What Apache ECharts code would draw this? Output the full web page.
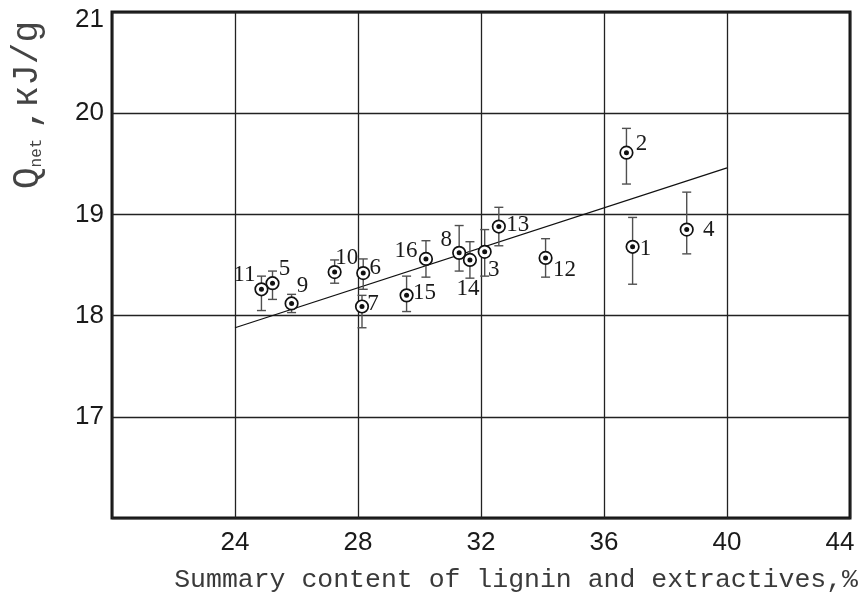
<!DOCTYPE html>
<html><head><meta charset="utf-8">
<script src="https://cdn.jsdelivr.net/npm/echarts@6/dist/echarts.min.js"></script>
<style>html,body{margin:0;padding:0;background:#fff}#c{width:861px;height:594px}</style>
</head><body><div id="c"></div>
<script>
// ---- data ----
const sampleIds = ['1','2','3','4','5','6','7','8','9','10','11','12','13','14','15','16'];
const ligninExtractives = [36.93, 36.73, 32.12, 38.69, 25.22, 28.17, 28.13, 31.29, 25.84, 27.24, 24.86, 34.10, 32.58, 31.64, 29.58, 30.21];
const qNet     = [18.68, 19.61, 18.63, 18.85, 18.32, 18.42, 18.09, 18.62, 18.12, 18.43, 18.26, 18.57, 18.88, 18.55, 18.20, 18.56];
const qNetLow  = [18.31, 19.30, 18.39, 18.61, 18.16, 18.26, 17.88, 18.44, 18.03, 18.32, 18.05, 18.38, 18.69, 18.37, 18.04, 18.38];
const qNetHigh = [18.97, 19.85, 18.85, 19.22, 18.44, 18.56, 18.20, 18.89, 18.21, 18.55, 18.39, 18.76, 19.07, 18.73, 18.39, 18.74];
const trendX = [24, 40];
const trendY = [17.88, 19.46];
const xTickMin = 20, xTickMax = 44, xTickStep = 4;
const yTickMin = 16, yTickMax = 21, yTickStep = 1;
const xTitle = 'Summary content of lignin and extractives,%';

// ---- layout (label offsets in px, per sample) ----
const labelOffsets = [[13,2],[15,-9],[9,18],[22,0],[12,-14],[12,-5],[11,-3],[-13,-13],[11,-18],[12,-14],[-17,-14],[19,12],[19,-2],[-2,29],[18,-2],[-20,-8]];

const chart = echarts.init(document.getElementById('c'), null, {renderer: 'canvas'});
const markerData = sampleIds.map((id, i) => [ligninExtractives[i], qNet[i]]);
const dotData = sampleIds.map((id, i) => ({name: id, value: [ligninExtractives[i], qNet[i]], label: {offset: labelOffsets[i]}}));
const barData = sampleIds.map((id, i) => [ligninExtractives[i], qNetLow[i], qNetHigh[i]]);

const tickFont = {fontFamily: '"Liberation Sans", Arial, sans-serif', fontSize: 26, color: '#1a1a1a'};

const option = {
  animation: false,
  grid: {left: 112, right: 11, top: 12, bottom: 76, show: true, borderColor: '#151515', borderWidth: 3, backgroundColor: 'transparent', outerBoundsMode: 'none'},
  xAxis: {
    type: 'value', min: xTickMin, max: xTickMax, interval: xTickStep,
    axisLine: {show: false}, axisTick: {show: false},
    splitLine: {show: true, lineStyle: {color: '#222', width: 1.3}},
    axisLabel: Object.assign({}, tickFont, {
      showMinLabel: false, margin: 12,
      formatter: v => v === xTickMax ? '{r|' + v + '}' : String(v),
      rich: {r: Object.assign({}, tickFont, {padding: [0, 20, 0, 0]})}
    })
  },
  yAxis: {
    type: 'value', min: yTickMin, max: yTickMax, interval: yTickStep,
    axisLine: {show: false}, axisTick: {show: false},
    splitLine: {show: true, lineStyle: {color: '#222', width: 1.3}},
    axisLabel: Object.assign({}, tickFont, {
      showMinLabel: false, margin: 8,
      formatter: v => v === yTickMax ? '{t|' + v + '}' : String(v),
      rich: {t: Object.assign({}, tickFont, {padding: [16, 0, 0, 0]})}
    })
  },
  series: [
    {type: 'line', data: trendX.map((x, i) => [x, trendY[i]]), symbol: 'none', silent: true,
     lineStyle: {color: '#111', width: 1.3}, z: 2},
    {type: 'custom', data: barData, z: 3, silent: true,
     renderItem: (params, api) => {
       const x = api.value(0);
       const lo = api.coord([x, api.value(1)]);
       const hi = api.coord([x, api.value(2)]);
       const w = 4.5;
       const st = {stroke: '#505050', lineWidth: 1.4};
       return {type: 'group', children: [
         {type: 'line', shape: {x1: lo[0], y1: lo[1], x2: hi[0], y2: hi[1]}, style: st},
         {type: 'line', shape: {x1: lo[0] - w, y1: lo[1], x2: lo[0] + w, y2: lo[1]}, style: st},
         {type: 'line', shape: {x1: hi[0] - w, y1: hi[1], x2: hi[0] + w, y2: hi[1]}, style: st}
       ]};
     }},
    {type: 'scatter', data: markerData, symbol: 'circle', symbolSize: 12.5, z: 4, silent: true,
     itemStyle: {color: '#fff', borderColor: '#111', borderWidth: 1.7, opacity: 1}},
    {type: 'scatter', data: dotData, symbol: 'circle', symbolSize: 5, z: 5, silent: true,
     itemStyle: {color: '#111', opacity: 1},
     label: {show: true, position: 'inside', formatter: p => p.name,
             fontFamily: '"Liberation Serif", "Times New Roman", serif', fontSize: 23, color: '#1a1a1a'}}
  ],
  graphic: [
    {type: 'text', x: 858, y: 580, silent: true,
     style: {text: xTitle, fontFamily: '"Liberation Mono", "Courier New", monospace', fontSize: 26.5,
             fill: '#3a3a3a', align: 'right', verticalAlign: 'middle'}},
    {type: 'text', x: 27, y: 105, rotation: Math.PI / 2, silent: true,
     style: {text: '{q|Q}{s|net }{q|,кJ/g}', align: 'center', verticalAlign: 'middle', fill: '#444',
             fontFamily: '"Liberation Mono", monospace', fontSize: 36,
             rich: {
               q: {fontFamily: '"Liberation Mono", monospace', fontSize: 36, fill: '#444'},
               s: {fontFamily: '"Liberation Mono", monospace', fontSize: 16, lineHeight: 16, verticalAlign: 'bottom', fill: '#444'}
             }}}
  ]
};
chart.setOption(option);
</script>
</body></html>
